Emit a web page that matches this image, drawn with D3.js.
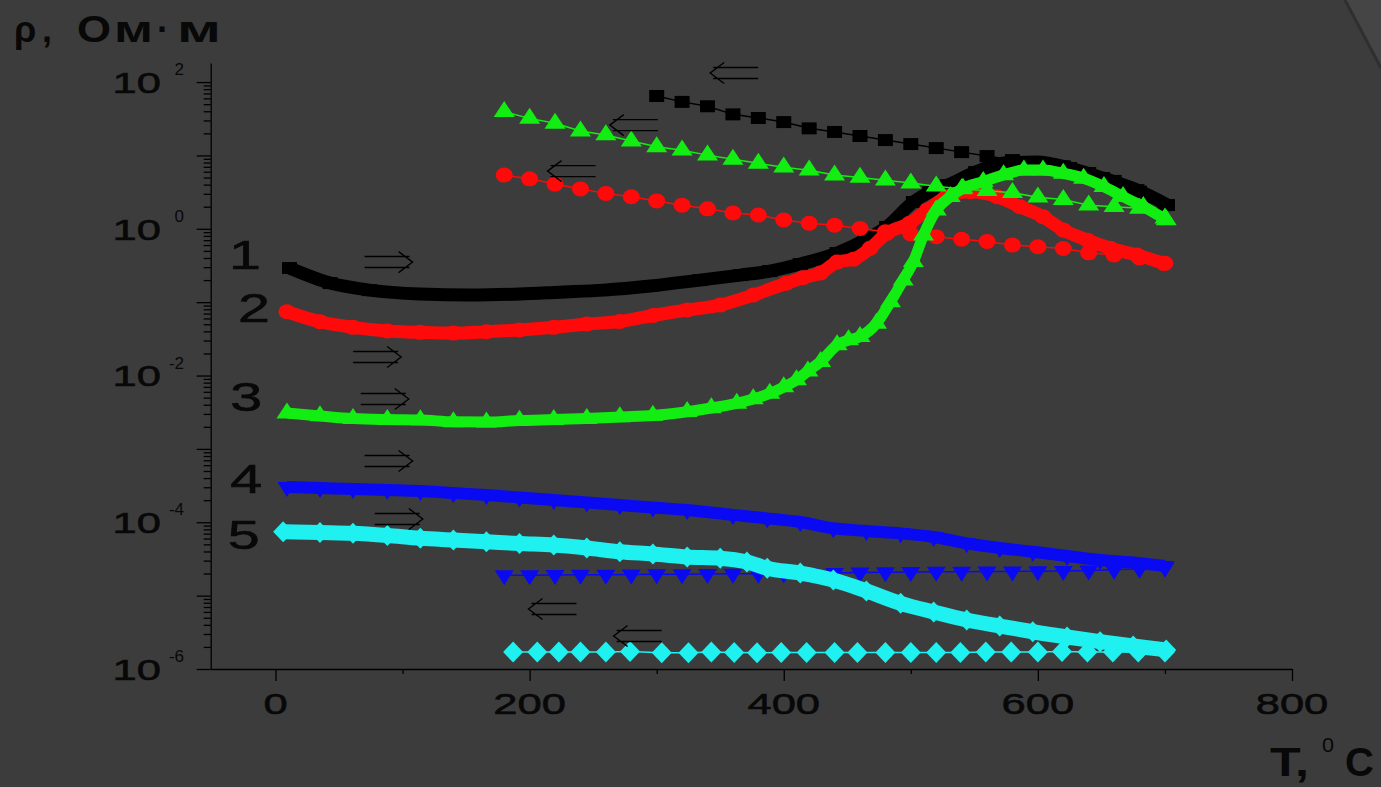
<!DOCTYPE html>
<html><head><meta charset="utf-8">
<script src="https://cdn.jsdelivr.net/npm/d3@7"></script>
<style>
html,body{margin:0;padding:0;background:#3c3c3c;}
svg{display:block;}
text{font-family:"Liberation Sans",Arial,sans-serif;fill:#080808;}
</style></head>
<body>
<svg id="chart" width="1381" height="787"></svg>
<script>
// ---------- DATA (T in °C, rho in Ohm·m) ----------
// Curve 1 (black squares)
const heat1T   = [11, 43, 74, 114, 153, 192, 224, 258, 295, 334, 366, 389, 413, 442, 464, 481, 502, 515, 529, 551, 573, 599, 625, 651, 678, 702];
const heat1Rho = [0.292, 0.182, 0.146, 0.129, 0.125, 0.129, 0.137, 0.146, 0.166, 0.200, 0.234, 0.265, 0.331, 0.468, 0.703, 1.06, 2.32, 3.17, 3.94, 5.93, 7.87, 8.13, 6.73, 4.92, 3.37, 2.11];
const cool1T   = [300, 320, 340, 360, 380, 400, 420, 440, 460, 480, 500, 520, 540, 560, 580, 600, 620, 640, 660, 680, 700];
const cool1Rho = [64.6, 53.7, 46.8, 36.3, 32.4, 28.5, 23.4, 20.9, 18.4, 16.2, 14.3, 12.6, 11.1, 9.8, 8.65, 7.9, 7.1, 5.75, 4.5, 3.2, 2.1];
// Curve 2 (red circles)
const heat2T   = [9, 35, 61, 88, 114, 140, 166, 192, 219, 245, 271, 297, 324, 350, 376, 402, 415, 429, 442, 455, 468, 481, 499, 513, 528, 547, 568, 586, 604, 620, 639, 657, 678, 699];
const heat2Rho = [0.0741, 0.0541, 0.0454, 0.0405, 0.0388, 0.0379, 0.0395, 0.0417, 0.0454, 0.0504, 0.0545, 0.0658, 0.0782, 0.0914, 0.125, 0.181, 0.215, 0.250, 0.352, 0.385, 0.542, 0.867, 1.19, 1.80, 2.74, 3.20, 2.74, 2.00, 1.46, 0.962, 0.700, 0.542, 0.439, 0.338];
const cool2T   = [180, 200, 220, 240, 260, 280, 300, 320, 340, 360, 380, 400, 420, 440, 460, 480, 500, 520, 540, 560, 580, 600, 620, 640, 660, 680, 700];
const cool2Rho = [5.4, 4.8, 4.07, 3.5, 3.04, 2.74, 2.4, 2.1, 1.87, 1.64, 1.54, 1.32, 1.19, 1.12, 1.01, 0.91, 0.85, 0.78, 0.72, 0.67, 0.60, 0.57, 0.54, 0.47, 0.44, 0.40, 0.34];
// Curve 3 (green triangles)
const heat3T   = [9, 35, 61, 88, 114, 140, 166, 192, 219, 245, 271, 297, 324, 343, 363, 376, 389, 400, 410, 419, 429, 442, 451, 460, 473, 484, 494, 502, 510, 520, 531, 541, 557, 573, 589, 604, 620, 636, 652, 667, 683, 701];
const heat3Rho = [0.00308, 0.00281, 0.00259, 0.00251, 0.00248, 0.00234, 0.00232, 0.00244, 0.00251, 0.00259, 0.00272, 0.00285, 0.00321, 0.00361, 0.00418, 0.00479, 0.00571, 0.00697, 0.00869, 0.0115, 0.0154, 0.0261, 0.0305, 0.0338, 0.0514, 0.101, 0.200, 0.356, 0.822, 1.80, 2.74, 3.56, 4.38, 5.41, 6.32, 6.32, 5.70, 4.88, 3.74, 2.74, 2.00, 1.32];
const cool3T   = [180, 200, 220, 240, 260, 280, 300, 320, 340, 360, 380, 400, 420, 440, 460, 480, 500, 520, 540, 560, 580, 600, 620, 640, 660, 680, 700];
const cool3Rho = [39.4, 32, 27.4, 21.5, 19, 15.7, 13.1, 11.8, 10.1, 8.85, 7.8, 6.9, 6.3, 5.4, 5.0, 4.6, 4.2, 3.8, 3.5, 3.3, 3.1, 2.7, 2.5, 2.1, 2.0, 1.9, 1.4];
// Curve 4 (blue inverted triangles)
const heat4T   = [9, 35, 61, 88, 114, 140, 166, 192, 219, 245, 271, 297, 324, 360, 387, 413, 439, 465, 492, 518, 544, 570, 596, 623, 649, 678, 700];
const heat4Rho = [3.02e-4, 2.93e-4, 2.84e-4, 2.76e-4, 2.67e-4, 2.5e-4, 2.35e-4, 2.18e-4, 2.01e-4, 1.86e-4, 1.72e-4, 1.59e-4, 1.47e-4, 1.26e-4, 1.13e-4, 1.01e-4, 8.28e-5, 7.6e-5, 7.06e-5, 6.3e-5, 5.16e-5, 4.46e-5, 3.97e-5, 3.47e-5, 3.06e-5, 2.79e-5, 2.54e-5];
const cool4T   = [180, 200, 220, 240, 260, 280, 300, 320, 340, 360, 380, 400, 420, 440, 460, 480, 500, 520, 540, 560, 580, 600, 620, 640, 660, 680, 700];
const cool4Rho = [1.9e-5, 1.9e-5, 1.91e-5, 1.92e-5, 1.93e-5, 1.94e-5, 1.95e-5, 1.96e-5, 1.97e-5, 1.98e-5, 1.99e-5, 2.0e-5, 2.02e-5, 2.04e-5, 2.06e-5, 2.08e-5, 2.1e-5, 2.11e-5, 2.12e-5, 2.13e-5, 2.14e-5, 2.15e-5, 2.17e-5, 2.2e-5, 2.25e-5, 2.32e-5, 2.4e-5];
// Curve 5 (cyan diamonds)
const heat5T   = [6, 35, 61, 88, 114, 140, 166, 192, 219, 245, 271, 297, 324, 350, 371, 387, 413, 439, 465, 492, 518, 544, 570, 596, 623, 649, 675, 701];
const heat5Rho = [7.43e-5, 7.24e-5, 7.06e-5, 6.59e-5, 6.04e-5, 5.73e-5, 5.43e-5, 5.13e-5, 4.90e-5, 4.46e-5, 3.97e-5, 3.69e-5, 3.36e-5, 3.23e-5, 2.87e-5, 2.36e-5, 2.03e-5, 1.63e-5, 1.16e-5, 7.85e-6, 5.98e-6, 4.66e-6, 3.85e-6, 3.22e-6, 2.73e-6, 2.36e-6, 2.06e-6, 1.82e-6];
const cool5T   = [187, 206, 223, 240, 260, 279, 304, 325, 343, 361, 379, 398, 418, 440, 458, 480, 500, 520, 539, 559, 579, 600, 619, 639, 659, 679, 700];
const cool5Rho = [1.70e-6, 1.70e-6, 1.70e-6, 1.70e-6, 1.70e-6, 1.73e-6, 1.66e-6, 1.66e-6, 1.70e-6, 1.68e-6, 1.66e-6, 1.68e-6, 1.68e-6, 1.68e-6, 1.68e-6, 1.68e-6, 1.68e-6, 1.68e-6, 1.68e-6, 1.70e-6, 1.70e-6, 1.70e-6, 1.73e-6, 1.70e-6, 1.70e-6, 1.70e-6, 1.70e-6];

// curve numbers and arrows (annotation positions in data units)
const curveLabels   = ["1", "2", "3", "4", "5"];
const curveLabelT   = [-24, -17, -23, -23, -25];
const curveLabelRho = [0.446, 0.0839, 0.00526, 3.96e-4, 6.8e-5];
const arrowT   = [361, 282, 233, 89, 80, 86, 89, 97, 218, 285];
const arrowRho = [132.7, 25.9, 6.12, 0.352, 0.01786, 0.00479, 6.84e-4, 1.107e-4, 6.58e-6, 2.82e-6];
const arrowDir = ["left", "left", "left", "right", "right", "right", "right", "right", "left", "left"];

// axis ticks
const xTicks = [0, 200, 400, 600, 800];
const xMinorTicks = [100, 300, 500, 700];
const yDecadeExps = [-6, -5, -4, -3, -2, -1, 0, 1, 2];
const yLabelExps = [-6, -4, -2, 0, 2];

// ---------- CHART ----------
const svg = d3.select("#chart");

// page-curl corner decoration
svg.append("polygon").attr("points", "1346,0 1381,0 1381,66").attr("fill", "#454545");
svg.append("line").attr("x1", 1345).attr("y1", 0).attr("x2", 1381).attr("y2", 68)
  .attr("stroke", "#2c2c2c").attr("stroke-width", 3).attr("opacity", 0.8);

const x = d3.scaleLinear().domain([-51, 800]).range([210.7, 1292]);
const y = d3.scaleLog().domain([1e-6, Math.pow(10, 2.26)]).range([669, 63]);

// axes
svg.append("g").attr("transform", "translate(0,669)")
  .call(d3.axisBottom(x).tickValues(xTicks).tickSize(12).tickSizeOuter(0).tickFormat(""));
const xMinorG = svg.append("g").attr("transform", "translate(0,669)")
  .call(d3.axisBottom(x).tickValues(xMinorTicks).tickSize(5).tickSizeOuter(0).tickFormat(""));
xMinorG.select(".domain").remove();

const yMinor = [];
yDecadeExps.forEach(e => { for (let k = 2; k <= 9; k++) { const v = k * Math.pow(10, e); if (v <= y.domain()[1]) yMinor.push(v); } });
svg.append("g").attr("transform", "translate(210.7,0)")
  .call(d3.axisLeft(y).tickValues(yDecadeExps.map(e => Math.pow(10, e))).tickSize(14).tickSizeOuter(0).tickFormat(""));
const yMinorG = svg.append("g").attr("transform", "translate(210.7,0)")
  .call(d3.axisLeft(y).tickValues(yMinor).tickSize(7).tickSizeOuter(0).tickFormat(""));
yMinorG.select(".domain").remove();
svg.selectAll(".domain, .tick line").attr("stroke", "#000").attr("stroke-width", 1.3);

// x tick labels (horizontally stretched as in the original)
svg.selectAll(".xlab").data(xTicks).enter().append("text")
  .attr("class", "xlab")
  .attr("transform", d => `translate(${x(d)},714) scale(1.45,1)`)
  .attr("text-anchor", "middle").attr("font-size", 30)
  .attr("stroke", "#080808").attr("stroke-width", 0.6)
  .text(d => d);

// y tick labels 10^n
const yl = svg.selectAll(".ylab").data(yLabelExps).enter().append("g").attr("class", "ylab");
yl.append("text")
  .attr("transform", d => `translate(161,${y(Math.pow(10, d)) + 10.7}) scale(1.45,1)`)
  .attr("text-anchor", "end").attr("font-size", 30)
  .attr("stroke", "#080808").attr("stroke-width", 0.6).text("10");
yl.append("text")
  .attr("x", 184).attr("y", d => y(Math.pow(10, d)) - 7)
  .attr("text-anchor", "end").attr("font-size", 17).text(d => String(d));

// axis titles
svg.append("text").attr("x", 14).attr("y", 42).attr("font-size", 36).attr("font-weight", "bold").text("ρ");
svg.append("text").attr("x", 42).attr("y", 42).attr("font-size", 36).attr("font-weight", "bold").text(",");
svg.append("text").attr("x", 77).attr("y", 42).attr("font-size", 37).attr("font-weight", "bold")
  .attr("textLength", 34).attr("lengthAdjust", "spacingAndGlyphs").text("О");
svg.append("text").attr("x", 114).attr("y", 42).attr("font-size", 36).attr("font-weight", "bold")
  .attr("textLength", 39).attr("lengthAdjust", "spacingAndGlyphs").text("м");
svg.append("text").attr("x", 157).attr("y", 42).attr("font-size", 36).attr("font-weight", "bold").text("·");
svg.append("text").attr("x", 177).attr("y", 42).attr("font-size", 36).attr("font-weight", "bold")
  .attr("textLength", 44).attr("lengthAdjust", "spacingAndGlyphs").text("м");

svg.append("text").attr("x", 1270).attr("y", 776).attr("font-size", 40).attr("font-weight", "bold")
  .attr("textLength", 39).attr("lengthAdjust", "spacingAndGlyphs").text("T,");
svg.append("text").attr("x", 1322).attr("y", 752).attr("font-size", 20)
  .attr("textLength", 12).attr("lengthAdjust", "spacingAndGlyphs").text("0");
svg.append("text").attr("x", 1345).attr("y", 776).attr("font-size", 40).attr("font-weight", "bold").text("C");

// ---------- SERIES ----------
function markerPath(type) {
  switch (type) {
    case "square":  { const w = 15, h = 12; return `M${-w/2},${-h/2}h${w}v${h}h${-w}Z`; }
    case "circle":  { const rx = 8.5, ry = 7.5; return `M${-rx},0a${rx},${ry} 0 1,0 ${2*rx},0a${rx},${ry} 0 1,0 ${-2*rx},0Z`; }
    case "triUp":   { const w = 21, h = 16; return `M0,${-2*h/3}L${w/2},${h/3}L${-w/2},${h/3}Z`; }
    case "triDown": { const w = 19, h = 15; return `M0,${2*h/3}L${w/2},${-h/3}L${-w/2},${-h/3}Z`; }
    case "diamond": { const w = 20, h = 21; return `M0,${-h/2}L${w/2},0L0,${h/2}L${-w/2},0Z`; }
  }
}

const series = [
  { color: "#000000", marker: "square",  band: 13, heatT: heat1T, heatR: heat1Rho, coolT: cool1T, coolR: cool1Rho },
  { color: "#ff0a0a", marker: "circle",  band: 13, heatT: heat2T, heatR: heat2Rho, coolT: cool2T, coolR: cool2Rho },
  { color: "#12ee12", marker: "triUp",   band: 11, heatT: heat3T, heatR: heat3Rho, coolT: cool3T, coolR: cool3Rho },
  { color: "#0a0af2", marker: "triDown", band: 12, heatT: heat4T, heatR: heat4Rho, coolT: cool4T, coolR: cool4Rho },
  { color: "#1ff0f0", marker: "diamond", band: 15, heatT: heat5T, heatR: heat5Rho, coolT: cool5T, coolR: cool5Rho }
];

const line = d3.line().x(d => x(d[0])).y(d => y(d[1])).curve(d3.curveMonotoneX);

series.forEach(s => {
  const g = svg.append("g");
  const heat = s.heatT.map((t, i) => [t, s.heatR[i]]);
  const cool = s.coolT.map((t, i) => [t, s.coolR[i]]);
  // heating: dense band
  g.append("path").datum(heat).attr("d", line)
    .attr("fill", "none").attr("stroke", s.color).attr("stroke-width", s.band)
    .attr("stroke-linejoin", "round");
  g.selectAll(".hm").data(heat).enter().append("path")
    .attr("d", markerPath(s.marker))
    .attr("transform", d => `translate(${x(d[0])},${y(d[1])})`)
    .attr("fill", s.color);
  // cooling: thin line with spaced markers
  g.append("path").datum(cool).attr("d", d3.line().x(d => x(d[0])).y(d => y(d[1])))
    .attr("fill", "none").attr("stroke", s.color).attr("stroke-width", 1.5);
  g.selectAll(".cm").data(cool).enter().append("path")
    .attr("d", markerPath(s.marker))
    .attr("transform", d => `translate(${x(d[0])},${y(d[1])})`)
    .attr("fill", s.color);
});

// curve numbers
svg.selectAll(".clab").data(curveLabels).enter().append("text")
  .attr("class", "clab")
  .attr("transform", (d, i) => `translate(${x(curveLabelT[i])},${y(curveLabelRho[i]) + 14.7}) scale(1.4,1)`)
  .attr("text-anchor", "middle").attr("font-size", 41)
  .attr("stroke", "#080808").attr("stroke-width", 0.6)
  .text(d => d);

// double arrows
const arrows = arrowT.map((t, i) => ({ t: t, r: arrowRho[i], dir: arrowDir[i] }));
svg.selectAll(".arrow").data(arrows).enter().append("path")
  .attr("class", "arrow")
  .attr("transform", d => `translate(${x(d.t)},${y(d.r)}) scale(${d.dir === "right" ? 1 : -1},1)`)
  .attr("d", "M-24,-5.5H21M-24,5.5H21M10,-10.5L24,0L10,10.5")
  .attr("fill", "none").attr("stroke", "#000").attr("stroke-width", 1.4);
</script>
</body></html>
